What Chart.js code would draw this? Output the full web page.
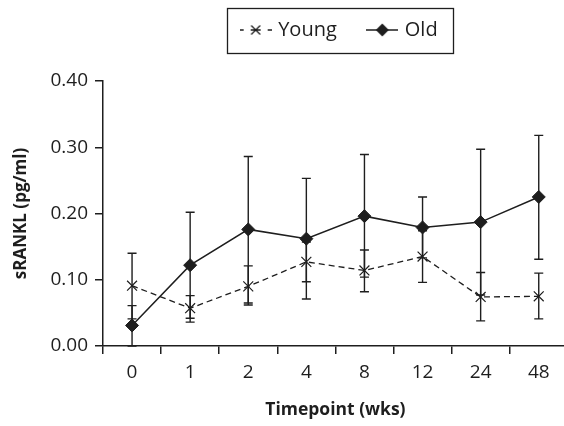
<!DOCTYPE html>
<html>
<head>
<meta charset="utf-8">
<script src="https://cdn.jsdelivr.net/npm/chart.js@4.4.1/dist/chart.umd.min.js"></script>
<style>
  html, body { margin: 0; padding: 0; background: #fff; overflow: hidden; }
  #wrap { width: 576px; height: 426px; position: relative; }
</style>
</head>
<body>
<div id="wrap"><canvas id="c"></canvas></div>
<script>
// ---- data ----
const categories = ['0', '1', '2', '4', '8', '12', '24', '48'];
const youngValues = [0.091, 0.057, 0.090, 0.127, 0.114, 0.135, 0.074, 0.075];
const youngLow    = [0.041, 0.036, 0.062, 0.097, 0.082, 0.096, 0.038, 0.041];
const youngHigh   = [0.140, 0.076, 0.121, 0.157, 0.145, 0.174, 0.111, 0.110];
const oldValues   = [0.031, 0.122, 0.176, 0.162, 0.196, 0.179, 0.187, 0.225];
const oldLow      = [0.000, 0.042, 0.065, 0.071, 0.104, 0.133, 0.077, 0.131];
const oldHigh     = [0.061, 0.202, 0.286, 0.253, 0.289, 0.225, 0.297, 0.318];
const yTicks = [0.00, 0.10, 0.20, 0.30, 0.40];

const INK = '#1e1e1e';
const FONT = "'Open Sans', 'DejaVu Sans', sans-serif";

// legend symbol images
function youngSymbol() {
  const c = document.createElement('canvas');
  c.width = 32; c.height = 14;
  const g = c.getContext('2d');
  g.strokeStyle = INK; g.lineWidth = 1.3;
  g.beginPath();
  g.moveTo(0, 7); g.lineTo(4, 7);
  g.moveTo(28, 7); g.lineTo(32, 7);
  g.moveTo(11, 7); g.lineTo(21, 7);
  g.moveTo(11.5, 2.5); g.lineTo(20.5, 11.5);
  g.moveTo(20.5, 2.5); g.lineTo(11.5, 11.5);
  g.stroke();
  return c;
}
function oldSymbol() {
  const c = document.createElement('canvas');
  c.width = 32; c.height = 14;
  const g = c.getContext('2d');
  g.strokeStyle = INK; g.fillStyle = INK; g.lineWidth = 1.5;
  g.beginPath(); g.moveTo(0, 7); g.lineTo(32, 7); g.stroke();
  g.beginPath();
  g.moveTo(16, 0.5); g.lineTo(22.5, 7); g.lineTo(16, 13.5); g.lineTo(9.5, 7); g.closePath();
  g.fill();
  return c;
}
const symbols = [youngSymbol(), oldSymbol()];

const errorBars = {
  id: 'errorBars',
  beforeDatasetsDraw(chart) {
    const ctx = chart.ctx;
    const y = chart.scales.y;
    const sets = [[youngLow, youngHigh], [oldLow, oldHigh]];
    ctx.save();
    ctx.strokeStyle = INK;
    ctx.lineWidth = 1.4;
    sets.forEach((pair, di) => {
      const meta = chart.getDatasetMeta(di);
      meta.data.forEach((pt, i) => {
        const x = pt.x;
        const yl = y.getPixelForValue(pair[0][i]);
        const yh = y.getPixelForValue(pair[1][i]);
        ctx.beginPath();
        ctx.moveTo(x, yl); ctx.lineTo(x, yh);
        ctx.moveTo(x - 4.5, yl); ctx.lineTo(x + 4.5, yl);
        ctx.moveTo(x - 4.5, yh); ctx.lineTo(x + 4.5, yh);
        ctx.stroke();
      });
    });
    ctx.restore();
  }
};

// lift the legend up into the top margin (its slot is kept tall so the plot starts lower)
const legendPlace = {
  id: 'legendPlace',
  afterLayout(chart) {
    const lg = chart.legend;
    if (!lg) return;
    lg.top -= 31;
    lg.bottom -= 31;
    lg.left += 5;
    lg.right += 5;
  }
};

const legendBox = {
  id: 'legendBox',
  afterDraw(chart) {
    const lg = chart.legend;
    if (!lg || !lg.legendHitBoxes || !lg.legendHitBoxes.length) return;
    const hb = lg.legendHitBoxes;
    const last = hb[hb.length - 1];
    const left = hb[0].left - 16;
    const right = last.left + last.width + 16;
    const cy = hb[0].top + hb[0].height / 2;
    const ctx = chart.ctx;
    ctx.save();
    ctx.strokeStyle = INK;
    ctx.lineWidth = 1.3;
    ctx.strokeRect(Math.round(left) + 0.5, Math.round(cy - 22.5) + 0.5, Math.round(right - left), 45);
    ctx.restore();
  }
};

new Chart(document.getElementById('c'), {
  type: 'line',
  data: {
    labels: categories,
    datasets: [
      {
        label: 'Young',
        data: youngValues,
        borderColor: INK,
        backgroundColor: INK,
        borderWidth: 1.3,
        borderDash: [6, 4],
        pointStyle: 'crossRot',
        pointRadius: 7,
        pointBorderWidth: 1.2,
        tension: 0,
        fill: false
      },
      {
        label: 'Old',
        data: oldValues,
        borderColor: INK,
        backgroundColor: INK,
        borderWidth: 1.5,
        pointStyle: 'rectRot',
        pointRadius: 6.5,
        pointBorderWidth: 1,
        tension: 0,
        fill: false
      }
    ]
  },
  options: {
    responsive: true,
    maintainAspectRatio: false,
    animation: false,
    layout: { padding: { left: 11, right: 6.4, top: 0, bottom: 0 } },
    plugins: {
      tooltip: { enabled: false },
      legend: {
        position: 'top',
        fullSize: false,
        labels: {
          usePointStyle: true,
          pointStyleWidth: 25,
          color: INK,
          font: { family: FONT, size: 20 },
          padding: 33,
          generateLabels(chart) {
            return chart.data.datasets.map((ds, i) => ({
              text: ds.label,
              pointStyle: symbols[i],
              fillStyle: INK,
              strokeStyle: INK,
              lineWidth: 0,
              hidden: false,
              datasetIndex: i,
              fontColor: INK
            }));
          }
        }
      }
    },
    scales: {
      x: {
        type: 'category',
        offset: true,
        afterFit(scale) { scale.height = 80; },
        border: { display: true, color: INK, width: 1.5 },
        grid: { display: true, drawOnChartArea: false, drawTicks: true, tickLength: 8, offset: true, color: INK, lineWidth: 1.5 },
        ticks: { color: INK, font: { family: FONT, size: 19 }, padding: 7 },
        title: { display: true, text: 'Timepoint (wks)', color: INK, font: { family: FONT, size: 17.5, weight: 'bold' }, padding: { top: 4, bottom: 5 } }
      },
      y: {
        min: 0,
        max: 0.4,
        afterBuildTicks(scale) { scale.ticks = yTicks.map(v => ({ value: v })); },
        afterFit(scale) { scale.width = 92; scale.paddingTop = 81; },
        border: { display: true, color: INK, width: 1.5 },
        grid: { display: true, drawOnChartArea: false, drawTicks: true, tickLength: 8, color: INK, lineWidth: 1.5 },
        ticks: { color: INK, font: { family: FONT, size: 19 }, padding: 7, callback: v => Number(v).toFixed(2) },
        title: { display: true, text: 'sRANKL (pg/ml)', color: INK, font: { family: FONT, size: 17, weight: 'bold' }, padding: { top: 0, bottom: 6 } }
      }
    }
  },
  plugins: [legendPlace, errorBars, legendBox]
});
</script>
</body>
</html>
